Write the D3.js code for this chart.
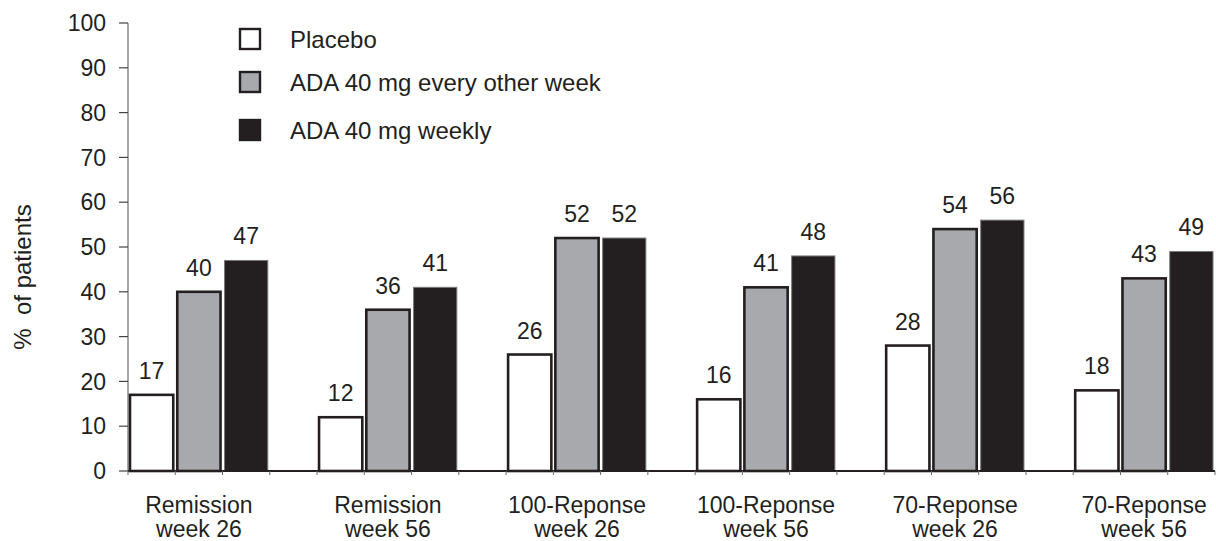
<!DOCTYPE html>
<html>
<head>
<meta charset="utf-8">
<script src="https://cdn.jsdelivr.net/npm/d3@7"></script>
<style>
  body { margin: 0; background: #fff; }
  text { font-family: "Liberation Sans", Arial, sans-serif; fill: #231f20; }
</style>
</head>
<body>
<div class="chart"></div>
<script>
// chart data
const categories = [
    ['Remission', 'week 26'],
    ['Remission', 'week 56'],
    ['100-Reponse', 'week 26'],
    ['100-Reponse', 'week 56'],
    ['70-Reponse', 'week 26'],
    ['70-Reponse', 'week 56']
];
const seriesNames = ['Placebo', 'ADA 40 mg every other week', 'ADA 40 mg weekly'];
const placebo = [17, 12, 26, 16, 28, 18];
const adaEow = [40, 36, 52, 41, 54, 43];
const adaWeekly = [47, 41, 52, 48, 56, 49];
const yTicks = [0, 10, 20, 30, 40, 50, 60, 70, 80, 90, 100];

const seriesValues = [placebo, adaEow, adaWeekly];
const fills = ['#ffffff', '#a7a9ac', '#231f20'];
const strokes = ['#231f20', '#231f20', '#7a7a7a'];
const strokeW = [2.6, 2.6, 1];

const width = 1216;
const height = 541;
const plotLeft = 128, plotRight = 1215, plotTop = 23, plotBottom = 471;

const svg = d3.select('.chart')
    .append('svg')
    .attr('width', width)
    .attr('height', height);

const y = d3.scaleLinear().domain([0, 100]).range([plotBottom, plotTop]);

// 6 groups of 3 bars, one empty slot between groups
const x0 = d3.scaleBand()
    .domain(d3.range(categories.length))
    .range([plotLeft, plotRight])
    .paddingInner(0.25)
    .paddingOuter(0);
const x1 = d3.scaleBand()
    .domain(d3.range(seriesNames.length))
    .range([0, x0.bandwidth()]);

// y axis
svg.append('line')
    .attr('x1', plotLeft).attr('x2', plotLeft)
    .attr('y1', plotTop).attr('y2', plotBottom)
    .attr('stroke', '#8a8a8a').attr('stroke-width', 1.5);

svg.selectAll('.ytick')
    .data(yTicks)
    .enter().append('line')
    .attr('x1', plotLeft - 9).attr('x2', plotLeft)
    .attr('y1', d => y(d)).attr('y2', d => y(d))
    .attr('stroke', '#444').attr('stroke-width', 1.2);

svg.selectAll('.ylabel')
    .data(yTicks)
    .enter().append('text')
    .attr('x', plotLeft - 22)
    .attr('y', d => y(d))
    .attr('dy', '0.36em')
    .attr('text-anchor', 'end')
    .style('font-size', '23px')
    .text(d => d);

svg.append('text')
    .attr('transform', `translate(31, ${(plotTop + plotBottom) / 2 + 30}) rotate(-90)`)
    .attr('text-anchor', 'middle')
    .style('font-size', '24px')
    .style('white-space', 'pre')
    .text('%  of patients');

// bars
const groups = svg.selectAll('.group')
    .data(categories)
    .enter().append('g')
    .attr('transform', (d, i) => `translate(${x0(i)}, 0)`);

seriesValues.forEach((vals, s) => {
    groups.append('rect')
        .attr('x', x1(s) + 2)
        .attr('width', x1.bandwidth() - 4)
        .attr('y', (d, i) => y(vals[i]))
        .attr('height', (d, i) => plotBottom - y(vals[i]))
        .attr('fill', fills[s])
        .attr('stroke', strokes[s])
        .attr('stroke-width', strokeW[s]);

    groups.append('text')
        .attr('x', x1(s) + x1.bandwidth() / 2)
        .attr('y', (d, i) => y(vals[i]) - 16)
        .attr('text-anchor', 'middle')
        .style('font-size', '23px')
        .text((d, i) => vals[i]);
});

// x axis line and slot ticks
svg.append('line')
    .attr('x1', plotLeft).attr('x2', plotRight)
    .attr('y1', plotBottom).attr('y2', plotBottom)
    .attr('stroke', '#231f20').attr('stroke-width', 2);

const slot = d3.scaleLinear().domain([0, 23]).range([plotLeft, plotRight]);
svg.selectAll('.xtick')
    .data(d3.range(24))
    .enter().append('line')
    .attr('x1', d => slot(d)).attr('x2', d => slot(d))
    .attr('y1', plotBottom).attr('y2', plotBottom + 4)
    .attr('stroke', '#666').attr('stroke-width', 1);

// category labels
const catLabels = svg.selectAll('.cat')
    .data(categories)
    .enter().append('text')
    .attr('text-anchor', 'middle')
    .style('font-size', '23px');
catLabels.append('tspan')
    .attr('x', (d, i) => x0(i) + x0.bandwidth() / 2)
    .attr('y', 513)
    .text(d => d[0]);
catLabels.append('tspan')
    .attr('x', (d, i) => x0(i) + x0.bandwidth() / 2)
    .attr('y', 537)
    .text(d => d[1]);

// legend
const legendY = [39, 82, 130];
const legend = svg.selectAll('.legend')
    .data(seriesNames)
    .enter().append('g')
    .attr('transform', (d, i) => `translate(239, ${legendY[i]})`);
legend.append('rect')
    .attr('x', 1).attr('y', -10)
    .attr('width', 20).attr('height', 20)
    .attr('fill', (d, i) => fills[i])
    .attr('stroke', '#231f20')
    .attr('stroke-width', 2.4);
legend.append('text')
    .attr('x', 51)
    .attr('dy', '0.36em')
    .style('font-size', '24px')
    .text(d => d);
</script>
</body>
</html>
